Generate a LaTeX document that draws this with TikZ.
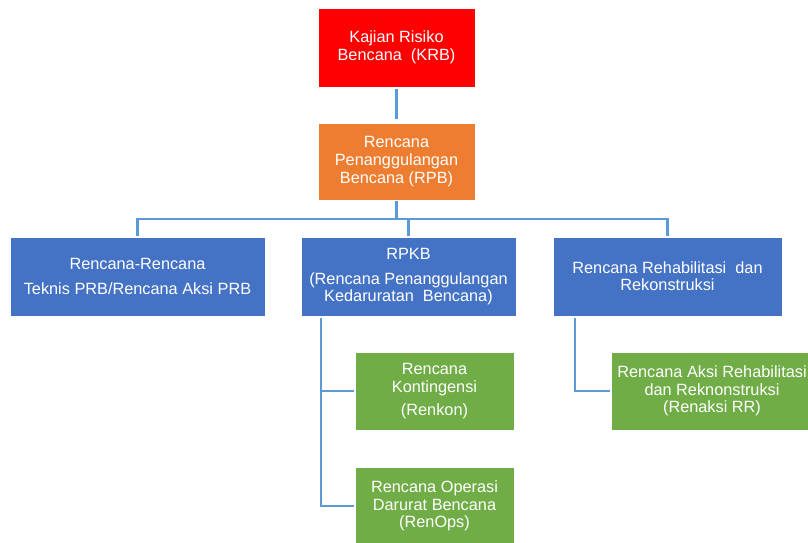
\documentclass[tikz,border=0pt]{standalone}
\usepackage{fontspec}
\setmainfont{Liberation Sans}
\definecolor{cred}{HTML}{FF0000}
\definecolor{corange}{HTML}{ED7D31}
\definecolor{cblue}{HTML}{4472C4}
\definecolor{cgreen}{HTML}{70AD47}
\definecolor{cline}{HTML}{5B9BD5}
\begin{document}
\begin{tikzpicture}[x=1pt,y=-1pt,
  box/.style={draw=white,line width=0.8pt,text=white,align=center,inner sep=0pt,
    font=\fontsize{16.3}{18.3}\selectfont},
  conn/.style={draw=cline,line width=2.6pt}]
\useasboundingbox (0,0) rectangle (808,542);
\clip (0,0) rectangle (808,542);
\fill[white] (0,0) rectangle (808,542);
\node[box,fill=cred,minimum width=157,minimum height=79] (krb) at (396.5,47.5) {Kajian Risiko\\Bencana\ \ (KRB)};
\node[box,fill=corange,minimum width=157,minimum height=77] (rpb) at (396.5,161.5) {Rencana\\Penanggulangan\\Bencana (RPB)};
\node[box,fill=cblue,minimum width=255,minimum height=79] (left) at (137.5,276.5) {Rencana-Rencana\\[6.5pt]Teknis PRB/Rencana Aksi PRB};
\node[box,fill=cblue,minimum width=215,minimum height=79] (rpkb) at (408.5,276.5) {RPKB\\[6.5pt](Rencana Penanggulangan\\[-1.3pt]Kedaruratan\ \ Bencana)};
\node[box,fill=cblue,minimum width=229,minimum height=79] (rehab) at (667.5,276.5) {Rencana Rehabilitasi\ \ dan\\[-1.3pt]Rekonstruksi};
\node[box,fill=cgreen,minimum width=159,minimum height=78] (renkon) at (434.5,391) {Rencana\\Kontingensi\\[4.5pt](Renkon)};
\node[box,fill=cgreen,minimum width=159,minimum height=78] (renops) at (434.5,506) {Rencana Operasi\\Darurat Bencana\\[-1.3pt](RenOps)};
\node[box,fill=cgreen,minimum width=202,minimum height=78] (renaksi) at (712,391) {Rencana Aksi Rehabilitasi\\dan Reknonstruksi\\[-1.3pt](Renaksi RR)};
\coordinate (bus) at (0,219);
\coordinate (t1) at (321,318);
\coordinate (t2) at (575,318);
\draw[conn,shorten <=2pt,shorten >=4pt] (krb.south) -- (rpb.north);
\draw[conn,shorten <=1pt] (rpb.south) -- (rpb.south |- bus);
\draw[conn,line cap=rect] (left.north |- bus) -- (rehab.north |- bus);
\draw[conn,shorten >=1pt] (left.north |- bus) -- (left.north);
\draw[conn,shorten >=1pt] (rpkb.north |- bus) -- (rpkb.north);
\draw[conn,shorten >=1pt] (rehab.north |- bus) -- (rehab.north);
\draw[conn,shorten >=1pt] (t1) |- (renkon.west);
\draw[conn,shorten >=1pt] (t1) |- (renops.west);
\draw[conn,shorten >=1pt] (t2) |- (renaksi.west);
\end{tikzpicture}
\end{document}
